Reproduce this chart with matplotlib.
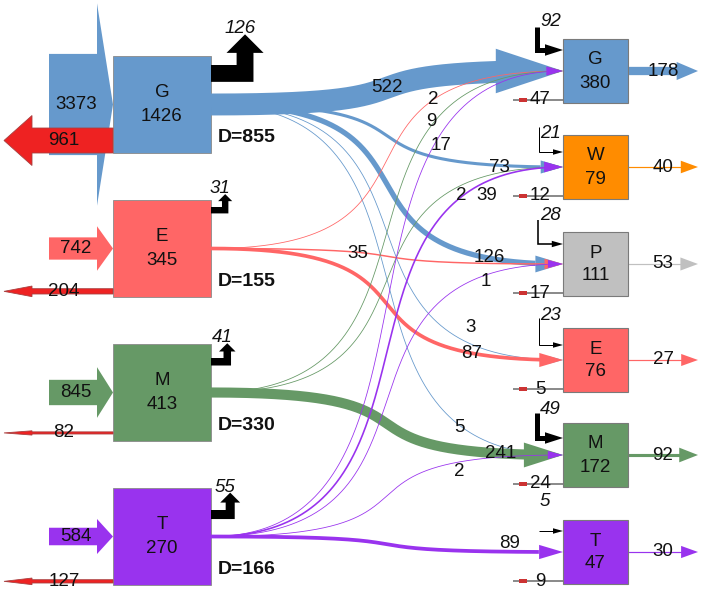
import matplotlib
matplotlib.use('Agg')
import matplotlib.pyplot as plt
from matplotlib.patches import Polygon, Rectangle
import numpy as np

plt.rcParams['font.family'] = ['Liberation Sans', 'DejaVu Sans']

# ---------------- data ----------------
left_names = ['G', 'E', 'M', 'T']
left_values = [1426, 345, 413, 270]
left_inputs = [3373, 742, 845, 584]
left_losses = [961, 204, 82, 127]
left_up = [126, 31, 41, 55]
left_D = [855, 155, 330, 166]

right_names = ['G', 'W', 'P', 'E', 'M', 'T']
right_values = [380, 79, 111, 76, 172, 47]
right_outputs = [178, 40, 53, 27, 92, 30]
right_top_inputs = [92, 21, 28, 23, 49, 5]
right_losses = [47, 12, 17, 5, 24, 9]

flow_src = ['G', 'G', 'G', 'G', 'G', 'E', 'E', 'E', 'M', 'M', 'M', 'T', 'T', 'T', 'T', 'T']
flow_dst = ['G', 'W', 'P', 'E', 'M', 'G', 'P', 'E', 'G', 'W', 'M', 'G', 'W', 'P', 'M', 'T']
flow_val = [522, 73, 126, 3, 5, 2, 35, 87, 9, 2, 241, 17, 39, 1, 2, 89]

# ---------------- style / layout ----------------
colors = {'G': '#6699cc', 'E': '#ff6666', 'M': '#669966', 'T': '#9933ee',
          'W': '#ff8c00', 'P': '#c0c0c0'}
RED = '#ee2222'
FS = 13.5
PT = 0.72  # points per pixel at dpi 100

L_X0, L_X1, L_H = 113, 211, 97
L_TOPS = [56, 200, 344, 488]
L_UP_BAR_OFF = [9, 7, 14, 22]
L_LOSS_EXTRA = [0, 3, 7, 2]

R_X0, R_X1, R_H = 563, 628, 64
R_TOPS = [39, 135, 232, 328, 423, 520]
R_TOP_IN_OFF = [11, 17, 12, 17, 15, 11]
R_TOP_IN_VLEN = [23, 25, 24, 27, 25, 0]
R_TOP_LABEL_OFF = [-28, -18, -28, -29, -28, -29]

flow_label_pos = [(387, 88), (499, 167), (489, 257), (471, 328), (459, 427),
                  (433, 100), (358, 254), (472, 353),
                  (431, 122), (461, 196), (501, 454),
                  (441, 146), (487, 196), (486, 282), (459, 471), (510, 544)]

fig = plt.figure(figsize=(7.01, 5.90), dpi=100)
ax = fig.add_axes([0, 0, 1, 1])
ax.set_xlim(0, 701)
ax.set_ylim(590, 0)
ax.axis('off')


def poly(pts, fc, ec='none', lw=0.0, z=2):
    ax.add_patch(Polygon(pts, closed=True, fc=fc, ec=ec, lw=lw, zorder=z,
                         joinstyle='miter'))


def txt(x, y, s, z=20, **kw):
    kw.setdefault('ha', 'center')
    kw.setdefault('va', 'center')
    kw.setdefault('fontsize', FS)
    ax.text(x, y, s, zorder=z, color='#111111', **kw)


l_center = {}
r_center = {}

# ---------------- left nodes ----------------
for i, name in enumerate(left_names):
    top = L_TOPS[i]
    bot = top + L_H
    cy = top + L_H / 2
    l_center[name] = cy
    col = colors[name]
    # input arrow
    w = left_inputs[i] * 0.03
    poly([(49, cy - w / 2), (97, cy - w / 2), (97, cy - w), (L_X0, cy),
          (97, cy + w), (97, cy + w / 2), (49, cy + w / 2)], col, z=1)
    txt(76, cy, str(left_inputs[i]))
    # box
    ax.add_patch(Rectangle((L_X0, top), L_X1 - L_X0, L_H, fc=col,
                           ec='#8a8a8a', lw=0.6, zorder=3))
    txt((L_X0 + L_X1) / 2, cy - 12, name)
    txt((L_X0 + L_X1) / 2, cy + 12, str(left_values[i]))
    # loss arrow (left pointing)
    w = max(left_losses[i] * 0.026, 2.0)
    ly = bot - w / 2 - L_LOSS_EXTRA[i]
    poly([(L_X0, ly - w / 2), (32, ly - w / 2), (32, ly - w), (4, ly),
          (32, ly + w), (32, ly + w / 2), (L_X0, ly + w / 2)],
         RED, ec='#a84040', lw=0.6, z=4)
    txt(64, ly, str(left_losses[i]))
    # up arrow (black)
    w = 3 + 0.11 * left_up[i]
    yt = top + L_UP_BAR_OFF[i]
    xr = L_X1 + 2.4 * w + 2
    xl = xr - w
    xc = xr - w / 2
    yb = yt - (0.6 * w + 2)
    hh = 1.1 * w
    hw = 1.1 * w
    poly([(L_X1, yt + w), (xr, yt + w), (xr, yb), (xc + hw, yb), (xc, yb - hh),
          (xc - hw, yb), (xl, yb), (xl, yt), (L_X1, yt)], 'black', z=4)
    txt(xc - 5, yb - hh - 1, str(left_up[i]), style='italic', va='baseline')
    # D label
    txt(218, bot - 15, 'D=%d' % left_D[i], ha='left', fontweight='bold',
        fontsize=FS + 0.5)

# ---------------- right nodes ----------------
for j, name in enumerate(right_names):
    top = R_TOPS[j]
    bot = top + R_H
    cy = top + R_H / 2
    r_center[name] = cy
    col = colors[name]
    ax.add_patch(Rectangle((R_X0, top), R_X1 - R_X0, R_H, fc=col,
                           ec='#7a7a7a', lw=0.8, zorder=12))
    txt((R_X0 + R_X1) / 2, cy - 11, name)
    txt((R_X0 + R_X1) / 2, cy + 12, str(right_values[j]))
    # output arrow
    v = right_outputs[j]
    w = max(1.2, (v - 40) * 0.06)
    hl = 16 + 0.03 * v
    hh = 11 + 0.04 * v
    tip = 698
    ax.plot([R_X1, tip - hl + 1], [cy, cy], color=col, lw=w * PT,
            solid_capstyle='butt', zorder=5)
    poly([(tip - hl, cy - hh / 2), (tip, cy), (tip - hl, cy + hh / 2)], col, z=5)
    txt(663, cy, str(v), z=21)
    # top input arrow (black L)
    v = right_top_inputs[j]
    w = min(5.0, max(1.0, (v - 20) * 0.2))
    yh = top + R_TOP_IN_OFF[j]
    xv = 539 - w / 2
    hl = 8 + 2 * w
    hh = 4 + 1.5 * w
    vlen = R_TOP_IN_VLEN[j]
    if vlen > 0:
        ax.plot([xv, xv, R_X0 - hl + 1], [yh - vlen, yh, yh], color='black',
                lw=w * PT, solid_joinstyle='miter', solid_capstyle='butt', zorder=6)
    else:
        ax.plot([xv, R_X0 - hl + 1], [yh, yh], color='black',
                lw=w * PT, solid_capstyle='butt', zorder=6)
    poly([(R_X0 - hl, yh - hh / 2), (R_X0, yh), (R_X0 - hl, yh + hh / 2)],
         'black', z=6)
    txt(540, yh + R_TOP_LABEL_OFF[j], str(v), ha='left', style='italic')
    # loss arrow (small, left)
    v = right_losses[j]
    ly = bot - 3
    ax.plot([R_X0, 513], [ly, ly], color='#808080', lw=1.8 * PT,
            solid_capstyle='butt', zorder=6)
    poly([(527, ly - 1.6), (519, ly - 1.6), (519, ly + 1.6), (527, ly + 1.6)],
         '#cc3333', z=6)
    txt(540, ly, str(v), z=21)


# ---------------- flows ----------------
def bez(x0, y0, x1, y1, k=0.74, n=400):
    t = np.linspace(0, 1, n)
    p1x, p2x = x0 + k * (x1 - x0), x1 - k * (x1 - x0)
    x = (1 - t) ** 3 * x0 + 3 * (1 - t) ** 2 * t * p1x + 3 * (1 - t) * t ** 2 * p2x + t ** 3 * x1
    y = (1 - t) ** 3 * y0 + 3 * (1 - t) ** 2 * t * y0 + 3 * (1 - t) * t ** 2 * y1 + t ** 3 * y1
    return x, y


src_order = {n: i for i, n in enumerate(left_names)}
for f, (s, d, v) in enumerate(zip(flow_src, flow_dst, flow_val)):
    col = colors[s]
    z = 7 + src_order[s] * 0.5
    y0 = l_center[s]
    y1 = r_center[d]
    w = max(0.8, v * 0.042)
    hl = 15 + 0.1 * v
    hh = 8 + 0.07 * v
    x, y = bez(L_X1, y0, R_X0, y1)
    m = x <= R_X0 - hl + 1.5
    ax.plot(x[m], y[m], color=col, lw=w * PT, solid_capstyle='butt', zorder=z)
    poly([(R_X0 - hl, y1 - hh / 2), (R_X0, y1), (R_X0 - hl, y1 + hh / 2)], col, z=z + 0.1)
    lx, lyy = flow_label_pos[f]
    txt(lx, lyy, str(v), z=22)

fig.savefig('out.png', dpi=100)
